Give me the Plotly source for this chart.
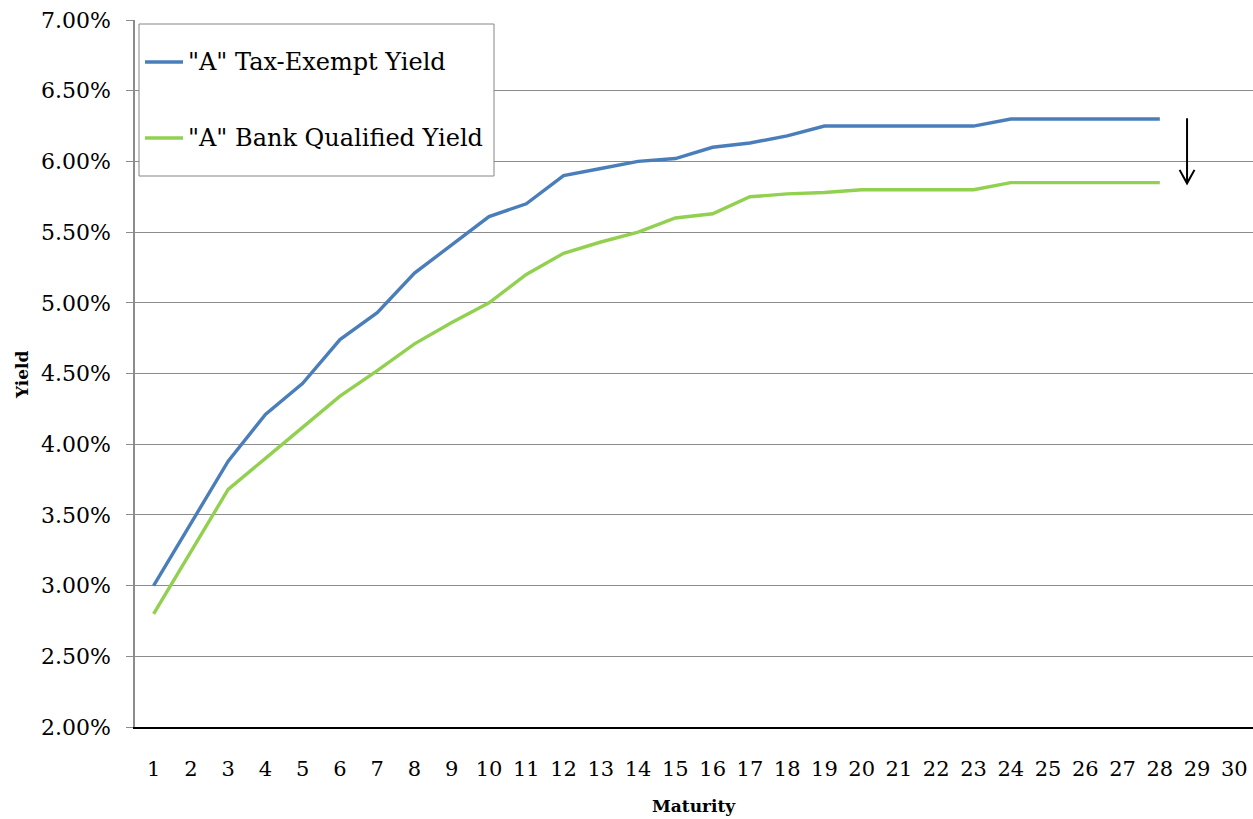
import plotly.graph_objects as go

maturity = list(range(1, 31))
tax_exempt = [3.00, 3.44, 3.88, 4.21, 4.43, 4.74, 4.93, 5.21, 5.41, 5.61,
              5.70, 5.90, 5.95, 6.00, 6.02, 6.10, 6.13, 6.18, 6.25, 6.25,
              6.25, 6.25, 6.25, 6.30, 6.30, 6.30, 6.30, 6.30]
bank_qualified = [2.80, 3.24, 3.68, 3.90, 4.12, 4.34, 4.52, 4.71, 4.86, 5.00,
                  5.20, 5.35, 5.43, 5.50, 5.60, 5.63, 5.75, 5.77, 5.78, 5.80,
                  5.80, 5.80, 5.80, 5.85, 5.85, 5.85, 5.85, 5.85]
series_names = ['"A" Tax-Exempt Yield', '"A" Bank Qualified Yield']
series_colors = ["#4A7EBB", "#92D050"]
y_ticks = [2.0, 2.5, 3.0, 3.5, 4.0, 4.5, 5.0, 5.5, 6.0, 6.5, 7.0]
y_tick_labels = ["%.2f%%" % v for v in y_ticks]

FONT = "DejaVu Serif"
L, R, T, B = 135, 0, 20, 92
W, H = 1253, 819
PW, PH = W - L - R, H - T - B


def px(x):
    return (x - L) / PW


def py(y):
    return (H - B - y) / PH


fig = go.Figure()
for vals, name, col in zip([tax_exempt, bank_qualified], series_names, series_colors):
    fig.add_trace(go.Scatter(x=maturity[:len(vals)], y=vals, mode="lines",
                             name=name, showlegend=False,
                             line=dict(color=col, width=3.4)))

# legend box (drawn manually)
fig.add_shape(type="rect", xref="paper", yref="paper",
              x0=px(139), x1=px(494), y0=py(176), y1=py(24),
              line=dict(color="#868686", width=1), fillcolor="white", layer="above")
for i, (name, col) in enumerate(zip(series_names, series_colors)):
    yy = 62 + 76 * i
    fig.add_shape(type="line", xref="paper", yref="paper",
                  x0=px(145), x1=px(183), y0=py(yy), y1=py(yy),
                  line=dict(color=col, width=3.4), layer="above")
    fig.add_annotation(text=name, xref="paper", yref="paper",
                       x=px(186), y=py(yy), xanchor="left", yanchor="middle",
                       showarrow=False,
                       font=dict(family=FONT, size=24, color="black"))

# arrow (decoration)
ax_x = 28.73
fig.add_shape(type="line", xref="x", yref="y", x0=ax_x, x1=ax_x, y0=6.305, y1=5.85,
              line=dict(color="black", width=2))
fig.add_shape(type="path", xref="x", yref="y",
              path="M %f,%f L %f,%f L %f,%f" % (ax_x - 0.2, 5.94, ax_x, 5.845, ax_x + 0.2, 5.94),
              line=dict(color="black", width=2))

fig.add_annotation(text="<b>Yield</b>", xref="paper", yref="paper",
                   x=px(22), y=py(375), xanchor="center", yanchor="middle",
                   showarrow=False, textangle=-90,
                   font=dict(family=FONT, size=17, color="black"))
fig.add_annotation(text="<b>Maturity</b>", xref="paper", yref="paper",
                   x=px(694), y=py(806), xanchor="center", yanchor="middle",
                   showarrow=False,
                   font=dict(family=FONT, size=17, color="black"))

fig.update_layout(
    width=W, height=H,
    margin=dict(l=L, r=R, t=T, b=B),
    paper_bgcolor="white", plot_bgcolor="white",
    font=dict(family=FONT, size=22, color="black"),
    showlegend=False,
    xaxis=dict(range=[0.5, 30.5], tickmode="array", tickvals=maturity,
               ticktext=[str(m) for m in maturity],
               showgrid=False, showline=True, linecolor="black", linewidth=2,
               ticks="", ticklabelstandoff=22, zeroline=False,
               tickfont=dict(family=FONT, size=21)),
    yaxis=dict(range=[2.0, 7.0], tickmode="array", tickvals=y_ticks,
               ticktext=y_tick_labels, showgrid=True, gridcolor="#8C8C8C",
               gridwidth=1.3, showline=True, linecolor="#8C8C8C", linewidth=1.5,
               ticks="outside", ticklen=7, tickcolor="#8C8C8C",
               ticklabelstandoff=11, zeroline=False,
               tickfont=dict(family=FONT, size=22)),
)

fig.write_html("out.html")
